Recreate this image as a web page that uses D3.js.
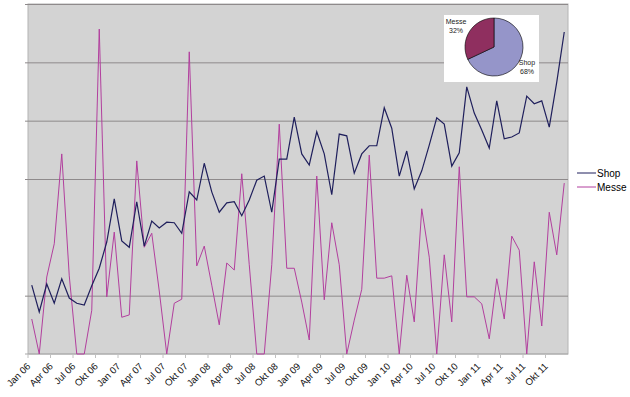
<!DOCTYPE html>
<html>
<head>
<meta charset="utf-8">
<script src="https://cdn.jsdelivr.net/npm/d3@7"></script>
<style>
  body { margin: 0; background: #fff; }
  svg { display: block; font-family: "Liberation Sans", Arial, sans-serif; }
</style>
</head>
<body>
<div id="chart"></div>
<script>
// monthly categories Jan 06 .. Dez 11
const monthNames = ['Jan', 'Feb', 'Mär', 'Apr', 'Mai', 'Jun', 'Jul', 'Aug', 'Sep', 'Okt', 'Nov', 'Dez'];
const years = ['06', '07', '08', '09', '10', '11'];
const categories = years.flatMap(y => monthNames.map(m => m + ' ' + y));

const tickLabels = [
  'Jan 06', 'Apr 06', 'Jul 06', 'Okt 06', 'Jan 07', 'Apr 07', 'Jul 07', 'Okt 07',
  'Jan 08', 'Apr 08', 'Jul 08', 'Okt 08', 'Jan 09', 'Apr 09', 'Jul 09', 'Okt 09',
  'Jan 10', 'Apr 10', 'Jul 10', 'Okt 10', 'Jan 11', 'Apr 11', 'Jul 11', 'Okt 11'
];

const shop = [
  118, 72, 120, 87, 129, 96, 87, 84, 117, 147, 192, 266,
  194, 183, 261, 185, 228, 216, 226, 225, 207, 278, 264, 327,
  278, 243, 259, 261, 237, 264, 298, 305, 243, 334, 334, 406,
  343, 324, 381, 343, 273, 377, 374, 310, 343, 357, 357, 422,
  387, 305, 348, 283, 314, 358, 405, 394, 322, 345, 458, 413,
  384, 353, 434, 369, 372, 379, 442, 429, 434, 389, 466, 552
];

const messe = [
  60, 0, 132, 189, 343, 134, 0, 0, 75, 557, 98, 209,
  63, 67, 331, 183, 207, 108, 0, 87, 94, 518, 151, 185,
  118, 50, 156, 144, 309, 153, 0, 0, 153, 394, 147, 147,
  89, 24, 305, 93, 225, 153, 0, 58, 111, 341, 130, 130,
  134, 0, 135, 55, 249, 166, 0, 170, 55, 321, 98, 98,
  86, 26, 129, 60, 202, 178, 0, 158, 48, 243, 170, 293
];

const gridValues = [100, 300, 400, 500, 600];

const pieNames = ['Shop', 'Messe'];
const pieShares = [68, 32];

const width = 630;
const height = 397;
const margin = { top: 4, right: 62, bottom: 43, left: 28 };
const plotW = width - margin.left - margin.right;
const plotH = height - margin.top - margin.bottom;

const colors = { Shop: '#1f1f5c', Messe: '#b23f9e' };

const svg = d3.select('#chart')
  .append('svg')
  .attr('width', width)
  .attr('height', height);

const g = svg.append('g')
  .attr('transform', 'translate(' + margin.left + ',' + margin.top + ')');

const x = d3.scaleBand()
  .domain(categories)
  .range([0, plotW]);

const y = d3.scaleLinear()
  .domain([0, 600])
  .range([plotH, 0]);

// plot background
g.append('rect')
  .attr('width', plotW)
  .attr('height', plotH)
  .attr('fill', '#d3d3d3')
  .attr('stroke', '#b4b4b4')
  .attr('stroke-width', 1);

// horizontal grid lines (with small ticks left of the axis)
g.append('g')
  .call(d3.axisLeft(y).tickValues(gridValues).tickSize(-plotW - 3).tickFormat(''))
  .attr('transform', 'translate(-3,0)')
  .call(a => a.select('.domain').remove())
  .call(a => a.selectAll('.tick line').attr('stroke', '#8e8a8b'));

// bottom axis: ticks at quarter boundaries, rotated labels
const xAxis = g.append('g')
  .attr('transform', 'translate(0,' + plotH + ')');

xAxis.append('line')
  .attr('x1', -3)
  .attr('x2', plotW)
  .attr('stroke', '#a8a8a8');

const ticks = xAxis.selectAll('.qtick')
  .data(tickLabels)
  .enter()
  .append('g')
  .attr('class', 'qtick')
  .attr('transform', d => 'translate(' + x(d) + ',0)');

ticks.append('line')
  .attr('y2', 4)
  .attr('stroke', '#c0c0c0');

ticks.append('text')
  .attr('transform', 'translate(3,13) rotate(-45)')
  .attr('text-anchor', 'end')
  .attr('font-size', 9.6)
  .attr('fill', '#111')
  .text(d => d);

// series lines
const cx = d => x(d) + x.bandwidth() / 2;

const line = d3.line()
  .x(d => cx(d.cat))
  .y(d => y(d.v));

const series = [
  { name: 'Messe', values: messe, width: 1 },
  { name: 'Shop', values: shop, width: 1.2 }
];

series.forEach(s => {
  g.append('path')
    .datum(categories.map((c, i) => ({ cat: c, v: s.values[i] })))
    .attr('fill', 'none')
    .attr('stroke', colors[s.name])
    .attr('stroke-width', s.width)
    .attr('stroke-linejoin', 'miter')
    .attr('d', line);
});

// legend
const legend = svg.append('g')
  .attr('transform', 'translate(577,173)');

['Shop', 'Messe'].forEach((name, i) => {
  const row = legend.append('g').attr('transform', 'translate(0,' + (i * 14) + ')');
  row.append('line')
    .attr('x1', 0)
    .attr('x2', 19)
    .attr('stroke', colors[name])
    .attr('stroke-width', 1);
  row.append('text')
    .attr('x', 20)
    .attr('dy', '0.35em')
    .attr('font-size', 10)
    .text(name);
});

// inset pie
const inset = svg.append('g')
  .attr('transform', 'translate(444,15)');

inset.append('rect')
  .attr('width', 95)
  .attr('height', 67)
  .attr('fill', '#fff');

const pieColors = { Shop: '#9595c9', Messe: '#8f2f5f' };

const pie = d3.pie().sort(null)(pieShares);
const arc = d3.arc().innerRadius(0).outerRadius(29);

const pg = inset.append('g').attr('transform', 'translate(50,32)');
pg.selectAll('path')
  .data(pie)
  .enter()
  .append('path')
  .attr('d', arc)
  .attr('fill', (d, i) => pieColors[pieNames[i]])
  .attr('stroke', '#000')
  .attr('stroke-width', 0.6);

const pieLabels = [
  { x: 83, y: 50 },
  { x: 12, y: 9 }
];

pieNames.forEach((name, i) => {
  const t = inset.append('text')
    .attr('x', pieLabels[i].x)
    .attr('y', pieLabels[i].y)
    .attr('text-anchor', 'middle')
    .attr('font-size', 7)
    .attr('fill', '#222');
  t.append('tspan').attr('x', pieLabels[i].x).text(name);
  t.append('tspan').attr('x', pieLabels[i].x).attr('dy', 9).text(pieShares[i] + '%');
});
</script>
</body>
</html>
